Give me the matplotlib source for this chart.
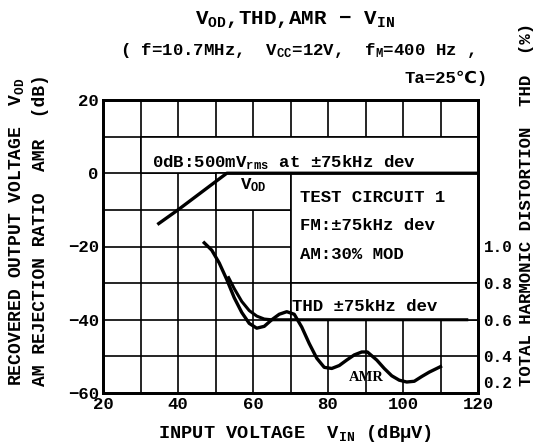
import matplotlib
matplotlib.use("Agg")
import matplotlib.pyplot as plt
from matplotlib.patches import Rectangle
import matplotlib.transforms as mtransforms

plt.rcParams['font.family'] = ['Liberation Mono', 'DejaVu Sans']
plt.rcParams['font.weight'] = 'bold'
plt.rcParams['mathtext.fontset'] = 'custom'
plt.rcParams['mathtext.rm'] = 'Liberation Mono:bold'
plt.rcParams['mathtext.it'] = 'Liberation Mono:bold'
plt.rcParams['mathtext.bf'] = 'Liberation Mono:bold'

# ---- data ----
vod_vin = [34.5, 40, 53, 120]
vod_db = [-14, -10, 0, 0]

amr_vin = [47, 49, 51, 53, 55, 57, 59, 61, 63, 65, 67, 69, 71, 73, 75, 77, 79, 81,
           83, 85, 87, 89, 90.5, 93, 95, 97, 99, 101, 103, 105, 107, 110]
amr_db = [-19, -21, -24.5, -29, -34, -38, -41, -42.3, -41.8, -40, -38.5, -37.8, -38.5,
          -42, -46.5, -50.5, -53, -53.3, -52.5, -51, -49.6, -48.8, -48.8, -51, -53.3,
          -55.3, -56.5, -57, -56.8, -55.5, -54.3, -52.8]

thd_vin = [53.5, 55, 57, 59, 61, 63, 65, 117]
thd_pct = [0.83, 0.77, 0.70, 0.65, 0.62, 0.604, 0.60, 0.60]

x_ticks = [20, 40, 60, 80, 100, 120]
y_ticks = [20, 0, -20, -40, -60]
y_labels = ['20', '0', '\u221220', '\u221240', '\u221260']
thd_ticks = [1.0, 0.8, 0.6, 0.4, 0.2]
thd_labels = ['1.0', '0.8', '0.6', '0.4', '0.2']

W, H = 540, 445
fig = plt.figure(figsize=(W / 100, H / 100), dpi=100)
ax = fig.add_axes([103 / W, 1 - 393 / H, 375 / W, 293 / H])
ax.set_xlim(20, 120)
ax.set_ylim(-60, 20)

gl = 1.2
for xv in range(30, 120, 10):
    ax.axvline(xv, color='black', lw=gl, zorder=1)
for yv in range(-50, 20, 10):
    ax.axhline(yv, color='black', lw=gl, zorder=1)

# label boxes that interrupt grid
for (x0, y0, w, h) in [(30, 0, 90, 10), (50, -10, 20, 10), (70, -30, 50, 30), (70, -40, 50, 10)]:
    ax.add_patch(Rectangle((x0, y0), w, h, facecolor='white', edgecolor='black',
                           lw=gl, zorder=1.5))

ax.plot(vod_vin, vod_db, color='black', lw=2.4, zorder=3, solid_capstyle='butt')
ax.plot(amr_vin, amr_db, color='black', lw=2.4, zorder=3)

ax2 = ax.twinx()
ax2.set_ylim(0.2, 1.8)
ax2.plot(thd_vin, thd_pct, color='black', lw=2.2, zorder=3)

for s in ax.spines.values():
    s.set_linewidth(2)
for s in ax2.spines.values():
    s.set_linewidth(2)

fs = 12.5
ax.set_xticks(x_ticks)
ax.set_xticklabels([str(v) for v in x_ticks], fontsize=fs, fontweight='bold')
ax.set_yticks(y_ticks)
ax.set_yticklabels(y_labels, fontsize=fs, fontweight='bold')
ax.tick_params(length=0, pad=3)
ax2.set_yticks(thd_ticks)
ax2.set_yticklabels(thd_labels, fontsize=11.5, fontweight='bold')
ax2.tick_params(length=0, pad=4)
# lift the lowest THD label a little so it clears the "120" label
lbl = ax2.get_yticklabels()[-1]
lbl.set_transform(lbl.get_transform() + mtransforms.ScaledTranslation(0, 8 / 72, fig.dpi_scale_trans))

# texts inside
tfs = 12.5
ax.text(33, 3.0, '0dB:500mV$_{\\mathrm{rms}}$ at \u00b175kHz dev',
        fontsize=tfs, va='center', ha='left', zorder=4)
ax.text(60, -3.3, r'V$_{\mathrm{OD}}$', fontsize=tfs, ha='center', va='center', zorder=4)
ax.text(72.5, -6.5, 'TEST CIRCUIT 1', fontsize=tfs, ha='left', va='center', zorder=4)
ax.text(72.5, -14.3, 'FM:\u00b175kHz dev', fontsize=tfs, ha='left', va='center', zorder=4)
ax.text(72.5, -22.3, 'AM:30% MOD', fontsize=tfs, ha='left', va='center', zorder=4)
ax.text(70.3, -36.3, 'THD \u00b175kHz dev', fontsize=tfs, ha='left', va='center', zorder=4)
ax.text(90.3, -55.8, 'AMR', fontsize=10.5, ha='center', va='center', zorder=4,
        family='Liberation Serif')

# titles
fig.text(295 / W, 1 - 20 / H, r'V$_{\mathrm{OD}}$,THD,AMR $-$ V$_{\mathrm{IN}}$',
         fontsize=15, ha='center', va='center')
fig.text(120 / W, 1 - 50 / H, '( f=10.7MHz,  V$_{\\mathrm{CC}}$=12V,  f$_{\\mathrm{M}}$=400 Hz ,',
         fontsize=12.5, ha='left', va='center')
fig.text(488 / W, 1 - 78 / H, 'Ta=25\u2103)', fontsize=12.5, ha='right', va='center')

fig.text(295 / W, 1 - 433 / H, 'INPUT VOLTAGE  V$_{\\mathrm{IN}}$ (dB\u03bcV)',
         fontsize=13.5, ha='center', va='center')

fig.text(17 / W, 1 - 386 / H, r'RECOVERED OUTPUT VOLTAGE  V$_{\mathrm{OD}}$',
         fontsize=13, rotation=90, ha='center', va='bottom')
fig.text(41 / W, 1 - 386 / H, 'AM REJECTION RATIO  AMR  (dB)',
         fontsize=13, rotation=90, ha='center', va='bottom')
fig.text(527 / W, 1 - 386 / H, 'TOTAL HARMONIC DISTORTION  THD  (%)',
         fontsize=12.5, rotation=90, ha='center', va='bottom')

fig.savefig('out.png', dpi=100)
